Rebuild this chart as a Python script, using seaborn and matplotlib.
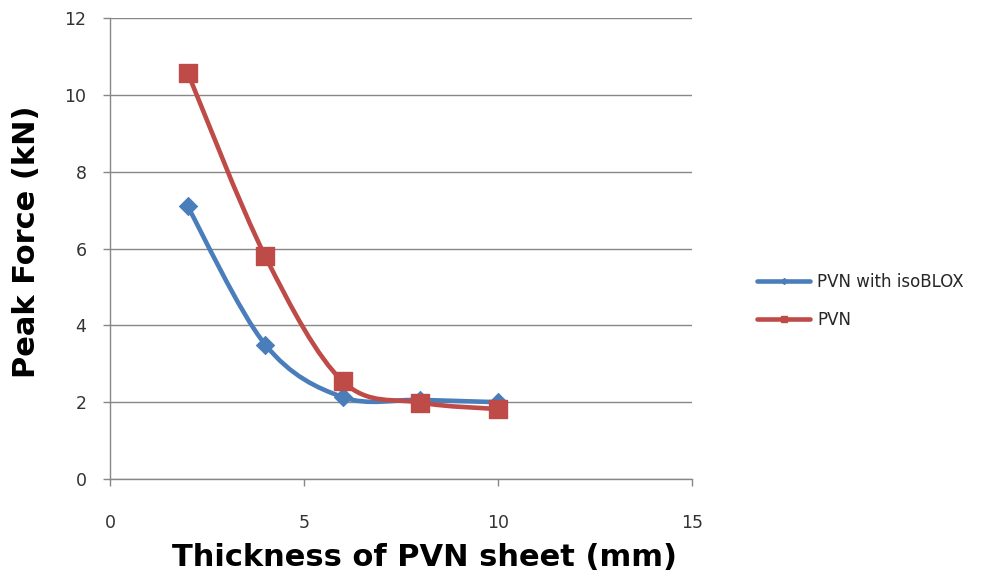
import numpy as np
import matplotlib
matplotlib.use("Agg")
import matplotlib.pyplot as plt
from matplotlib.path import Path
from matplotlib.patches import PathPatch
from matplotlib.lines import Line2D
import seaborn as sns

# Data
thickness = [2, 4, 6, 8, 10]
pvn_isoblox = [7.1, 3.5, 2.13, 2.06, 2.0]
pvn = [10.58, 5.8, 2.54, 1.99, 1.82]

x_ticks = [0, 5, 10, 15]
y_ticks = [0, 2, 4, 6, 8, 10, 12]

blue = "#4A7EBB"
red = "#BE4B48"
grid_col = "#878787"

sns.set_theme(style="white")
plt.rcParams["font.family"] = ["DejaVu Sans"]


def smooth_path(xs, ys):
    # Excel-style smoothed line: cubic Bezier through the points
    pts = np.column_stack([xs, ys]).astype(float)
    n = len(pts)
    verts = [pts[0]]
    codes = [Path.MOVETO]
    for i in range(n - 1):
        p0 = pts[i - 1] if i > 0 else pts[i]
        p1 = pts[i]
        p2 = pts[i + 1]
        p3 = pts[i + 2] if i + 2 < n else pts[i + 1]
        c1 = p1 + (p2 - p0) / 6.0
        c2 = p2 - (p3 - p1) / 6.0
        verts += [c1, c2, p2]
        codes += [Path.CURVE4] * 3
    return Path(verts, codes)


fig = plt.figure(figsize=(9.95, 5.8), dpi=100)
ax = fig.add_axes([110 / 995, 1 - 479 / 580, 582 / 995, 461 / 580])

for ys, col in [(pvn_isoblox, blue), (pvn, red)]:
    ax.add_patch(PathPatch(smooth_path(thickness, ys), facecolor="none",
                           edgecolor=col, lw=3.3, capstyle="round",
                           joinstyle="round", zorder=3))

sns.scatterplot(x=thickness, y=pvn_isoblox, ax=ax, marker="D", s=85,
                color=blue, edgecolor=blue, zorder=4, legend=False)
sns.scatterplot(x=thickness, y=pvn, ax=ax, marker="s", s=150,
                color=red, edgecolor=red, zorder=5, legend=False)

ax.set_xlim(0, 15)
ax.set_ylim(0, 12)
ax.set_xticks(x_ticks)
ax.set_yticks(y_ticks)
ax.yaxis.grid(True, color=grid_col, lw=1.0)
ax.set_axisbelow(True)

for s in ["top", "right"]:
    ax.spines[s].set_visible(False)
for s in ["left", "bottom"]:
    ax.spines[s].set_color(grid_col)
    ax.spines[s].set_linewidth(1.0)

ax.tick_params(axis="both", direction="out", length=5, width=1,
               color=grid_col, labelcolor="#333333", labelsize=12.5,
               left=True, bottom=True)
ax.tick_params(axis="x", pad=20)
ax.tick_params(axis="y", pad=12)

ax.set_xlabel("Thickness of PVN sheet (mm)", fontsize=22, fontweight="bold",
              color="black")
ax.xaxis.set_label_coords(0.541, -0.138)
ax.set_ylabel("Peak Force (kN)", fontsize=22, fontweight="bold",
              color="black")
ax.yaxis.set_label_coords(-0.118, 0.515)

handles = [
    Line2D([], [], color=blue, lw=3.3, marker="D", markersize=3),
    Line2D([], [], color=red, lw=3.3, marker="s", markersize=4),
]
fig.legend(handles, ["PVN with isoBLOX", "PVN"], loc="center left",
           bbox_to_anchor=(742 / 995, 1 - 301 / 580), frameon=False,
           fontsize=12, handlelength=3.2, handletextpad=0.4,
           labelspacing=1.2)

fig.savefig("out.png", dpi=100)
